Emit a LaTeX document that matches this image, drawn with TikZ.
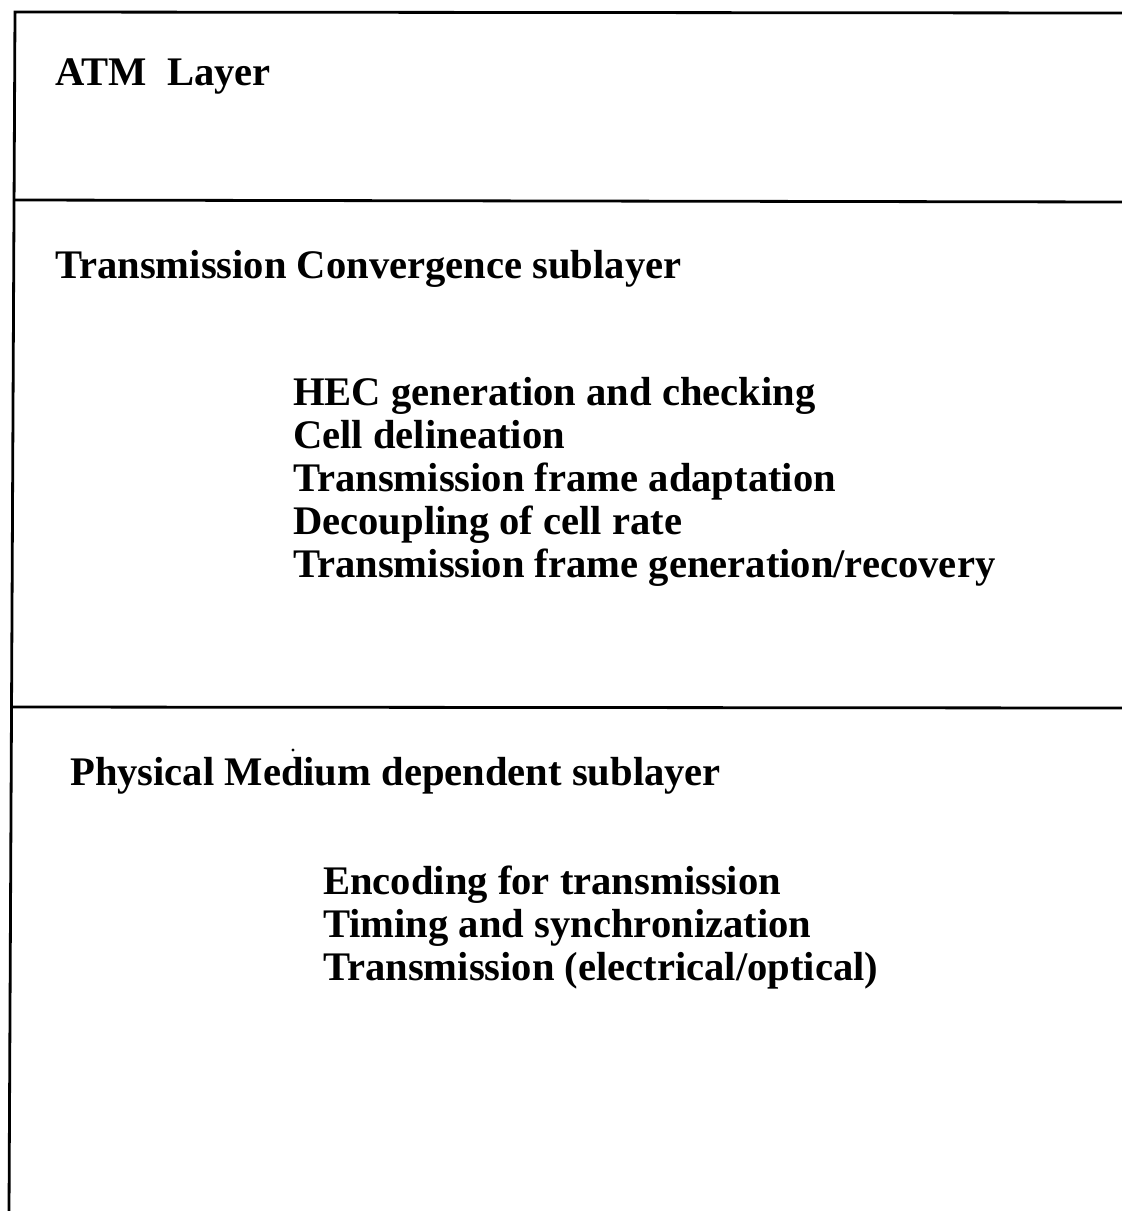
\documentclass[tikz,border=0pt]{standalone}
\usepackage{fontspec}
\setmainfont{Liberation Serif}
\begin{document}
\begin{tikzpicture}[x=1pt,y=-1pt,
  rule/.style={line width=2.8pt,line cap=rect,black},
  label/.style={anchor=base west,inner sep=0pt,font=\fontsize{40.6}{43}\selectfont\bfseries}]
  \useasboundingbox (0,0) rectangle (1122,1211);
  \fill[white] (0,0) rectangle (1122,1211);

  % frame: left edge and three horizontal rules, open at right and bottom
  \coordinate (tl) at (15,12);
  \coordinate (bl) at (9,1213);
  \draw[rule] (bl) -- (tl) -- (1124,13);
  \draw[rule] (14.5,200) -- (1124,202);
  \draw[rule] (11.5,707) -- (1124,708);

  % layer headings
  \node[label] (atm) at (55,85) {ATM\hspace{0.5em}Layer};
  \node[label] (tc)  at (55,278) {Transmission Convergence sublayer};
  \node[label] (pmd) at (70,785) {Physical Medium dependent sublayer};

  % functions of the TC sublayer
  \node[label] (tc1) at (293,405) {HEC generation and checking};
  \node[label] (tc2) at (293,448) {Cell delineation};
  \node[label] (tc3) at (293,491) {Transmission frame adaptation};
  \node[label] (tc4) at (293,534) {Decoupling of cell rate};
  \node[label] (tc5) at (293,577) {Transmission frame generation/recovery};

  % functions of the PMD sublayer
  \node[label] (pm1) at (323,894) {Encoding for transmission};
  \node[label] (pm2) at (323,937) {Timing and synchronization};
  \node[label] (pm3) at (323,980) {Transmission (electrical/optical)};

  % small speck above the PMD heading
  \fill (293,750) circle (1.6);
\end{tikzpicture}
\end{document}
